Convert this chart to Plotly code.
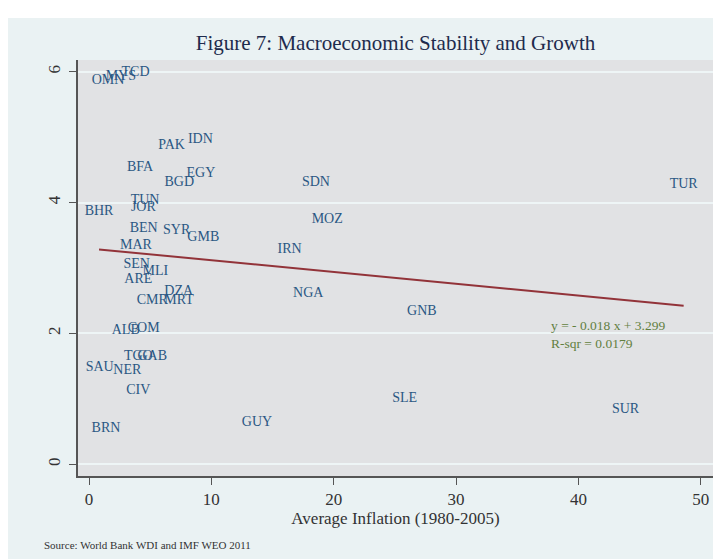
import plotly.graph_objects as go

# country codes with inflation (x) and growth (y)
paises = ["OMN", "MYS", "TCD", "PAK", "IDN", "BFA", "EGY", "BGD", "TUN", "JOR",
          "BHR", "BEN", "SYR", "GMB", "MAR", "SEN", "MLI", "ARE", "DZA", "CMR",
          "MRT", "ALB", "COM", "TGO", "GAB", "SAU", "NER", "CIV", "BRN", "GUY",
          "SDN", "MOZ", "IRN", "NGA", "GNB", "SLE", "SUR", "TUR"]
inflacao = [1.55, 2.6, 3.8, 6.75, 9.1, 4.17, 9.15, 7.38, 4.58, 4.44,
            0.82, 4.47, 7.16, 9.34, 3.84, 3.9, 5.42, 4.03, 7.33, 5.17,
            7.35, 3.0, 4.47, 4.03, 5.17, 0.87, 3.13, 4.03, 1.39, 13.73,
            18.55, 19.47, 16.4, 17.92, 27.2, 25.8, 43.85, 48.6]
crescimento = [5.87, 5.93, 5.99, 4.88, 4.97, 4.54, 4.44, 4.30, 4.03, 3.93,
               3.86, 3.61, 3.57, 3.46, 3.34, 3.06, 2.94, 2.82, 2.64, 2.51,
               2.50, 2.04, 2.07, 1.65, 1.65, 1.48, 1.44, 1.12, 0.54, 0.64,
               4.31, 3.74, 3.28, 2.61, 2.33, 1.01, 0.84, 4.27]

inclinacao = -0.018
intercepto = 3.299
r2 = 0.0179

x_ticks = [0, 10, 20, 30, 40, 50]
y_ticks = [0, 2, 4, 6]

fonte = "Liberation Serif"
azul = "#2a5783"

x_fit = [min(inflacao), max(inflacao)]
y_fit = [intercepto + inclinacao * v for v in x_fit]

fig = go.Figure()

fig.add_trace(go.Scatter(x=x_fit, y=y_fit, mode="lines",
                         line=dict(color="#923339", width=2),
                         hoverinfo="skip", showlegend=False))

fig.add_trace(go.Scatter(x=inflacao, y=crescimento, text=paises,
                         mode="text", textposition="middle center",
                         textfont=dict(family=fonte, size=14, color=azul),
                         showlegend=False))

fig.add_annotation(x=37.6, y=1.98, xref="x", yref="y",
                   text="y = - 0.018 x + 3.299<br>R-sqr = %.4f" % r2,
                   showarrow=False, xanchor="left", yanchor="middle", align="left",
                   font=dict(family=fonte, size=13.5, color="#617f3f"))

fig.add_annotation(x=0.0, y=-0.165, xref="paper", yref="paper",
                   xanchor="left", yanchor="middle", showarrow=False,
                   text="Source: World Bank WDI and IMF WEO 2011",
                   xshift=-36,
                   font=dict(family=fonte, size=11, color="#333333"))

# white strip at the top (page above the figure)
fig.add_shape(type="rect", xref="paper", yref="paper",
              x0=-0.13, x1=1.02, y0=1.1010, y1=1.14,
              fillcolor="white", line_width=0)

# the page body has an 8px margin, so the figure is sized to fit inside
fig.update_layout(
    width=713, height=551,
    margin=dict(l=70, r=8, t=52, b=83),
    paper_bgcolor="#eaf2f3",
    plot_bgcolor="#e1e2e4",
    font=dict(family=fonte, color="#333333"),
    title=dict(text="Figure 7: Macroeconomic Stability and Growth",
               x=0.5, xref="paper", xanchor="center",
               y=1 - 35 / 551, yref="container", yanchor="middle",
               font=dict(family=fonte, size=21, color="#1e2b4d")),
)

fig.update_xaxes(range=[-0.9, 51.0], tickvals=x_ticks,
                 showgrid=False, zeroline=False,
                 showline=True, linecolor="#555555", linewidth=1.5,
                 ticks="outside", ticklen=7, tickcolor="#555555",
                 tickfont=dict(size=17, color="#333333"),
                 title=dict(text="Average Inflation (1980-2005)", standoff=4,
                            font=dict(size=17, color="#333333")))

fig.update_yaxes(range=[-0.18, 6.18], tickvals=y_ticks,
                 showgrid=True, gridcolor="#eef5f6", gridwidth=1.5,
                 zeroline=False,
                 showline=True, linecolor="#555555", linewidth=1.5,
                 ticks="outside", ticklen=7, tickcolor="#555555",
                 tickangle=-90, ticklabelstandoff=2,
                 tickfont=dict(size=17, color="#333333"))

fig.write_html("out.html")
